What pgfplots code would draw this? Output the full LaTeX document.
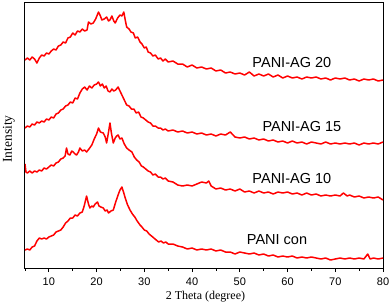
\documentclass[border=0pt]{standalone}
\usepackage{fontspec}
\setmainfont{Liberation Serif}
\setsansfont{Liberation Sans}
\usepackage{pgfplots}
\pgfplotsset{compat=1.18}
\usetikzlibrary{calc}
\definecolor{xrdred}{RGB}{255,0,0}
\tikzset{xrd/.style={xrdred, line width=1.5pt, mark=none, line join=round}}
\begin{document}
\begin{tikzpicture}
\begin{axis}[
  scale only axis,
  width=358pt, height=266pt,
  xmin=5, xmax=80, ymin=0, ymax=266,
  xtick={10,20,...,80},
  minor xtick={5,15,...,75},
  ytick=\empty,
  tick pos=left,
  tick align=outside,
  major tick length=4pt,
  minor tick length=2.5pt,
  axis line style={line width=1pt},
  every tick/.style={line width=0.8pt, black},
  /pgf/number format/assume math mode=true,
  ticklabel style={font=\sffamily\fontsize{11}{11}\selectfont},
  xticklabel style={yshift=-2.5pt},
  xlabel={2 Theta (degree)},
  ylabel={Intensity},
  xlabel style={font=\fontsize{12}{12}\selectfont, at={(axis description cs:0.504,-0.109)}, anchor=center},
  ylabel style={font=\fontsize{13.5}{13.5}\selectfont, at={(axis description cs:-0.045,0.485)}, anchor=center},
]
% PANI-AG 20
\addplot[xrd] table {
5.0 208
5.5 210
6.0 208
6.5 211
7.0 209
7.5 205
8.0 210
8.5 213
9.0 212
9.5 215
10.0 214
10.5 217
11.0 219
11.5 218
12.0 222
12.5 223
13.0 226
13.5 225
14.0 230
14.5 231
15.0 235
15.5 233
16.0 237
16.5 236
17.0 239
17.5 237
18.0 238
18.3 246
18.8 244
19.3 245
19.8 249
20.4 256
20.8 252
21.1 248
21.6 249
22.1 251
22.5 247
22.8 248
23.2 252
23.6 247
23.9 245
24.4 250
24.9 253
25.3 252
25.7 256
26.0 248
26.3 241
26.8 239
27.2 236
27.7 235
28.1 230
28.6 231
29.1 226
29.5 224
30.0 220
30.4 221
30.8 216
31.3 215
31.8 212
32.3 213
32.9 209
33.4 210
33.9 207
34.4 209
35.0 206
36.0 207
37.0 204
38.0 204
39.0 201
40.0 203
41.0 200
42.0 201
43.0 199
44.0 200
45.0 197
46.0 198
47.0 195
48.0 196
49.0 194
50.0 195
51.0 193
52.0 196
53.0 192
54.0 194
55.0 192
56.0 194
57.0 191
58.0 193
59.0 190
60.0 192
61.0 190
62.0 191
63.0 189
64.0 191
65.0 190
66.0 191
67.0 189
68.0 190
69.0 188
70.0 190
71.0 189
72.0 190
73.0 188
74.0 189
75.0 187
76.0 189
77.0 188
78.0 189
79.0 187
80.0 188
};
% PANI-AG 15
\addplot[xrd] table {
5.0 140
5.5 142
6.0 141
6.5 144
7.0 143
7.5 146
8.0 145
8.5 147
9.0 146
9.5 149
10.0 148
10.5 151
11.0 150
11.5 154
12.0 155
12.5 158
13.0 159
13.5 162
14.0 163
14.5 166
15.0 165
15.5 170
16.0 169
16.5 175
17.0 179
17.5 181
18.0 178
18.5 182
19.0 180
19.5 183
20.0 184
20.4 186
20.8 182
21.2 184
21.6 180
22.0 182
22.4 177
22.8 176
23.2 179
23.6 177
24.0 178
24.5 181
25.0 176
25.3 173
25.8 168
26.3 163
26.8 162
27.3 159
27.8 159
28.3 155
28.8 156
29.3 151
29.8 150
30.3 148
30.8 146
31.3 145
31.8 142
32.3 142
32.9 140
33.4 140
33.9 138
34.4 139
35.0 137
36.0 138
37.0 136
38.0 137
39.0 135
40.0 136
41.0 134
42.0 135
43.0 133
44.0 134
45.0 132
46.0 134
47.0 133
48.0 136
49.0 131
50.0 130
51.0 131
52.0 129
53.0 130
54.0 128
55.0 129
56.0 127
57.0 128
58.0 126
59.0 127
60.0 125
61.0 127
62.0 125
63.0 126
64.0 124
65.0 126
66.0 125
67.0 124
68.0 126
69.0 124
70.0 125
71.0 124
72.0 125
73.0 124
74.0 125
75.0 123
76.0 125
77.0 124
78.0 125
79.0 124
80.0 126
};
% PANI-AG 10
\addplot[xrd] table {
5.0 104
5.2 96
5.5 95
6.0 97
6.5 95
7.0 97
7.5 96
8.0 98
8.5 97
9.0 100
9.5 99
10.0 101
10.5 103
11.0 102
11.5 105
12.0 106
12.5 109
13.0 110
13.4 112
13.7 120
14.0 114
14.4 113
14.8 117
15.1 116
15.5 114
15.8 113
16.2 116
16.5 120
17.0 117
17.5 118
17.9 116
18.4 119
19.0 123
19.5 129
20.0 134
20.4 140
20.8 136
21.4 135
21.8 131
22.1 125
22.5 136
22.8 145
23.1 135
23.5 125
23.9 130
24.2 132
24.5 133
24.9 129
25.3 130
25.8 124
26.3 120
26.8 118
27.4 116
27.9 111
28.4 108
28.9 106
29.4 102
29.8 101
30.3 99
30.8 97
31.3 96
31.8 93
32.3 94
32.9 91
33.4 91
33.9 89
34.4 90
35.0 87
36.0 86
37.0 83
38.0 82
39.0 83
40.0 82
41.0 84
42.0 86
43.0 85
43.5 87
44.0 82
45.0 79
46.0 80
47.0 78
48.0 79
49.0 77
50.0 79
51.0 76
52.0 77
53.0 75
54.0 77
55.0 75
56.0 76
57.0 74
58.0 76
59.0 75
60.0 76
61.0 74
62.0 75
63.0 73
64.0 75
65.0 73
66.0 74
67.0 72
68.0 73
69.0 72
70.0 73
71.0 72
71.7 75
72.5 72
73.0 73
74.0 71
75.0 72
76.0 70
77.0 71
78.0 70
79.0 71
80.0 68
};
% PANI con
\addplot[xrd] table {
5.0 18
5.5 19
6.0 18
6.5 21
7.0 22
7.5 27
8.0 30
8.5 29
9.0 30
9.5 29
10.0 31
10.5 32
11.0 33
11.5 36
12.0 37
12.5 38
13.0 41
13.5 45
14.0 47
14.5 50
15.0 50
15.5 53
16.0 52
16.5 55
17.0 56
17.4 62
17.9 72
18.3 64
18.6 60
19.0 62
19.3 61
19.7 64
20.2 66
20.5 62
20.9 61
21.4 60
21.8 57
22.2 58
22.5 55
23.0 57
23.5 58
24.0 66
24.5 73
24.9 78
25.3 81
25.7 75
26.0 70
26.5 63
27.0 58
27.5 54
28.0 51
28.5 47
29.1 43
29.5 41
30.0 38
30.5 37
31.0 34
31.5 32
32.0 30
32.5 28
33.0 26
33.5 27
34.0 25
34.5 26
35.0 24
36.0 24
37.0 22
38.0 21
39.0 19
40.0 20
41.0 18
42.0 19
43.0 18
44.0 19
45.0 17
46.0 18
47.0 16
48.0 16
49.0 14
50.0 16
51.0 15
52.0 14
53.0 15
54.0 13
55.0 14
56.0 12
57.0 13
58.0 11
59.0 12
60.0 11
61.0 12
62.0 10
63.0 11
64.0 10
65.0 11
66.0 10
67.0 9
68.0 10
69.0 8
70.0 9
71.0 10
72.0 9
73.0 10
74.0 9
75.0 10
76.0 9
76.8 14
77.3 9
78.0 10
79.0 9
80.0 10
};
\begin{scope}[every node/.style={font=\sffamily\fontsize{14.5}{14.5}\selectfont, anchor=center, inner sep=0pt}]
\node at (axis cs:60.9,205) {PANI-AG 20};
\node at (axis cs:63.0,141) {PANI-AG 15};
\node at (axis cs:60.9,89) {PANI-AG 10};
\node at (axis cs:57.8,28) {PANI con};
\end{scope}
\end{axis}
\pgfresetboundingbox
\path ($(current axis.south west)+(-25pt,-38pt)$) rectangle ($(current axis.north east)+(9pt,2pt)$);
\end{tikzpicture}
\end{document}
